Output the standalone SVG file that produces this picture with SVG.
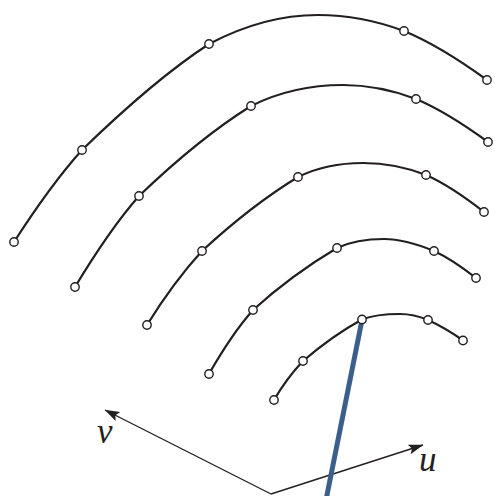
<svg xmlns="http://www.w3.org/2000/svg" width="495" height="496" viewBox="0 0 495 496">
<defs>
<style>
.curve{fill:none;stroke:#231f20;stroke-width:2.2;}
.pt{fill:#fff;stroke:#231f20;stroke-width:1.4;}
.axis{fill:none;stroke:#231f20;stroke-width:1.4;}
.lbl{font-family:"Liberation Serif",serif;font-style:italic;font-size:35px;fill:#231f20;}
</style>
<marker id="ah" viewBox="0 0 15 10" refX="14.5" refY="5" markerWidth="15" markerHeight="10" markerUnits="userSpaceOnUse" orient="auto">
<path d="M0,0 L15,5 L0,10 L3,5 Z" fill="#231f20"/>
</marker>
</defs>
<rect width="495" height="496" fill="#fff"/>
<g id="connectors">
<path class="axis" d="M271,494 L105,410" marker-end="url(#ah)"/>
<path class="axis" d="M271,494 L423,445" marker-end="url(#ah)"/>
<path d="M362,320 L326,500" stroke="#3b5e8c" stroke-width="5" fill="none"/>
</g>
<g id="curve1">
<path class="curve" d="M14,242 C34.6,210 56.5,178.3 82,150 C121.5,111.6 163,74.1 209,44 C242.2,26.4 280.4,15 318,15 C347.2,15 376.7,20.8 404,31 C433.7,43.3 461,61.1 487,80"/>
<circle class="pt" cx="14" cy="242" r="4.2"/><circle class="pt" cx="82" cy="150" r="4.2"/><circle class="pt" cx="209" cy="44" r="4.2"/><circle class="pt" cx="404" cy="31" r="4.2"/><circle class="pt" cx="487" cy="80" r="4.2"/>
</g>
<g id="curve2">
<path class="curve" d="M75,287 C94.2,255.2 114.5,223.8 139,196 C173.5,162.9 210.5,131.3 251,106 C279.1,91.9 311.5,85 343,85 C367.8,85 392.8,90.2 416,99 C441.9,109.8 465.3,125.5 488,142"/>
<circle class="pt" cx="75" cy="287" r="4.2"/><circle class="pt" cx="139" cy="196" r="4.2"/><circle class="pt" cx="251" cy="106" r="4.2"/><circle class="pt" cx="416" cy="99" r="4.2"/><circle class="pt" cx="488" cy="142" r="4.2"/>
</g>
<g id="curve3">
<path class="curve" d="M147,325 C163.2,298.9 181.3,273.6 202,251 C231.7,223.6 263.6,198 298,177 C317.9,167.2 340.8,163 363,163 C384.4,163 406.1,167.2 426,175 C447,184.2 466,197.9 484,212"/>
<circle class="pt" cx="147" cy="325" r="4.2"/><circle class="pt" cx="202" cy="251" r="4.2"/><circle class="pt" cx="298" cy="177" r="4.2"/><circle class="pt" cx="426" cy="175" r="4.2"/><circle class="pt" cx="484" cy="212" r="4.2"/>
</g>
<g id="curve4">
<path class="curve" d="M209,374 C221.8,351.5 235.9,329.4 253,310 C278.8,286.6 307.1,265.8 337,248 C351.5,241.2 368,239 384,239 C401.1,239 418.2,244.5 434,251 C449.1,257.9 462.9,267.8 476,278"/>
<circle class="pt" cx="209" cy="374" r="4.2"/><circle class="pt" cx="253" cy="310" r="4.2"/><circle class="pt" cx="337" cy="248" r="4.2"/><circle class="pt" cx="434" cy="251" r="4.2"/><circle class="pt" cx="476" cy="278" r="4.2"/>
</g>
<g id="curve5">
<path class="curve" d="M274,400 C282.2,386 291.9,372.7 303,361 C321.2,345.4 340.9,331 362,319.5 C373.8,314.7 387.2,314 400,314 C409.5,314 419.2,316.3 428,320 C440.3,325.6 452.1,332.6 463,340.5"/>
<circle class="pt" cx="274" cy="400" r="4.2"/><circle class="pt" cx="303" cy="361" r="4.2"/><circle class="pt" cx="362" cy="319.5" r="4.2"/><circle class="pt" cx="428" cy="320" r="4.2"/><circle class="pt" cx="463" cy="340.5" r="4.2"/>
</g>
<g id="labels">
<text class="lbl" x="97" y="443">v</text>
<text class="lbl" x="419" y="471">u</text>
</g>
</svg>
